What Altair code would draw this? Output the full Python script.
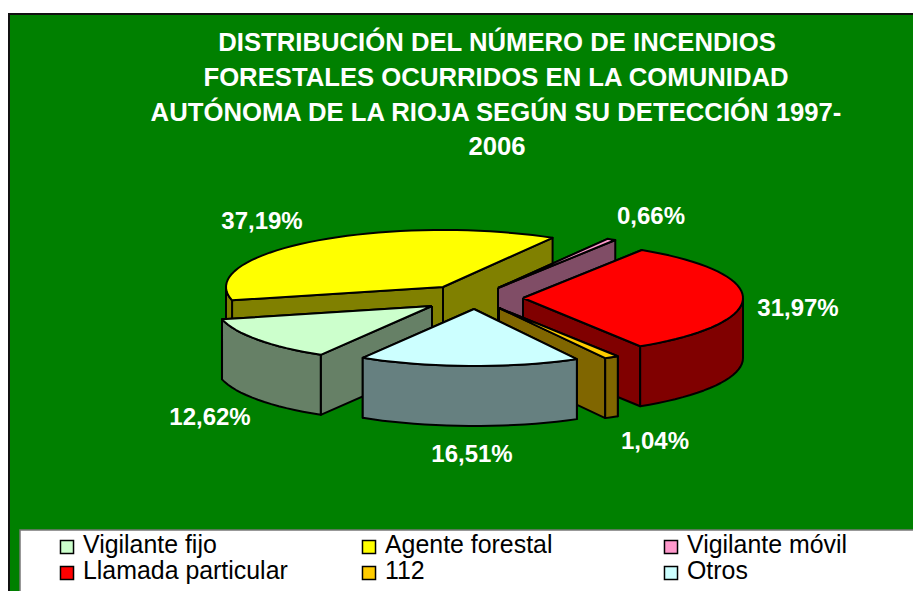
import math
import altair as alt
import pandas as pd

names = ["Vigilante fijo", "Agente forestal", "Vigilante móvil", "Llamada particular", "112", "Otros"]
values = [12.62, 37.19, 0.66, 31.97, 1.04, 16.51]
labels = ["12,62%", "37,19%", "0,66%", "31,97%", "1,04%", "16,51%"]
top_colors = ["#CCFFCC", "#FFFF00", "#FF99CC", "#FF0000", "#FFCC00", "#CCFFFF"]
side_colors = ["#668066", "#808000", "#804D66", "#800000", "#806600", "#668080"]
title_lines = ["DISTRIBUCIÓN DEL NÚMERO DE INCENDIOS",
               "FORESTALES OCURRIDOS EN LA COMUNIDAD",
               "AUTÓNOMA DE LA RIOJA SEGÚN SU DETECCIÓN 1997-",
               "2006"]

# layout (image pixels)
apex_x = [432, 443, 498, 523, 499, 474]
apex_y = [306, 287, 288, 298, 308, 309]
slice_rx = [216, 217, 217, 220, 223, 216]
label_x = [210, 262, 651, 798, 655, 472]
label_y = [418, 222, 217, 309, 442, 455]
title_x = [497, 496, 496, 497]
title_y = [43, 78, 113, 147]
legend_sq_x = [67, 369, 671, 67, 369, 671]
legend_sq_y = [547, 547, 547, 573, 573, 573]
legend_tx_x = [83, 385, 687, 83, 385, 687]
legend_tx_y = [546, 546, 546, 572, 572, 572]
RY, H = 57, 60
START = -149.0
paint_order = [1, 2, 3, 0, 4, 5]

X = alt.Scale(domain=[8, 913], nice=False, zero=False)
Y = alt.Scale(domain=[591, 8], nice=False, zero=False)


def rim(i, deg):
    t = math.radians(deg)
    return apex_x[i] + slice_rx[i] * math.sin(t), apex_y[i] - RY * math.cos(t)


def sweep(a, b):
    n = max(2, int((b - a) / 3) + 1)
    return [a + (b - a) * k / n for k in range(n + 1)]


total = sum(values)
ranges = []
cur = START
for v in values:
    ranges.append((cur, cur + 360 * v / total))
    cur += 360 * v / total

rows = []
pid = 0


def add(points, color):
    global pid
    pts = points + [points[0]]
    for k, (x, y) in enumerate(pts):
        rows.append({"x": x, "y": y, "i": k, "id": f"p{pid:03d}", "col": color})
    pid += 1


for i in paint_order:
    a, b = ranges[i]
    ax, ay = apex_x[i], apex_y[i]
    # rear radial wall first, nearer one over it
    for d in sorted((a, b), key=lambda q: rim(i, q)[1]):
        rx, ry = rim(i, d)
        add([(ax, ay), (rx, ry), (rx, ry + H), (ax, ay + H)], side_colors[i])
    for lo, hi in ((90, 270), (-270, -90)):
        fa, fb = max(a, lo), min(b, hi)
        if fb > fa:
            arc = [rim(i, d) for d in sweep(fa, fb)]
            add(arc + [(x, y + H) for x, y in reversed(arc)], side_colors[i])
    add([(ax, ay)] + [rim(i, d) for d in sweep(a, b)], top_colors[i])

poly_df = pd.DataFrame(rows)

ex = alt.X("x:Q", scale=X, axis=None)
ey = alt.Y("y:Q", scale=Y, axis=None)


def box(x0, x1, y0, y1, fill, stroke, sw):
    d = pd.DataFrame({"x": [x0], "x2": [x1], "y": [y0], "y2": [y1]})
    return alt.Chart(d).mark_rect(fill=fill, stroke=stroke, strokeWidth=sw).encode(
        x=ex, x2="x2:Q", y=ey, y2="y2:Q")


frame = box(9, 930, 14, 610, "#008000", "#111111", 2)
legend_box = box(20, 930, 530, 600, "#FFFFFF", "#777777", 1.5)

polys = alt.Chart(poly_df).mark_line(stroke="#000000", strokeWidth=2, strokeJoin="round").encode(
    x=ex, y=ey, order=alt.Order("i:Q"), detail="id:N", fill=alt.Fill("col:N", scale=None))

title_df = pd.DataFrame({"x": title_x, "y": title_y, "t": title_lines})
title = alt.Chart(title_df).mark_text(font="Liberation Sans", fontWeight="bold", fontSize=25.7,
                                      color="#FFFFFF", align="center", baseline="middle").encode(x=ex, y=ey, text="t:N")

lab_df = pd.DataFrame({"x": label_x, "y": label_y, "t": labels})
lab = alt.Chart(lab_df).mark_text(font="Liberation Sans", fontWeight="bold", fontSize=24,
                                  color="#FFFFFF", align="center", baseline="middle").encode(x=ex, y=ey, text="t:N")

sq_df = pd.DataFrame({"x": legend_sq_x, "y": legend_sq_y, "col": top_colors})
squares = alt.Chart(sq_df).mark_square(size=170, stroke="#000000", strokeWidth=1.5, opacity=1).encode(
    x=ex, y=ey, fill=alt.Fill("col:N", scale=None))

tx_df = pd.DataFrame({"x": legend_tx_x, "y": legend_tx_y, "t": names})
texts = alt.Chart(tx_df).mark_text(font="Liberation Sans", fontSize=24.9, color="#000000",
                                   align="left", baseline="middle").encode(x=ex, y=ey, text="t:N")

chart = alt.layer(frame, legend_box, polys, title, lab, squares, texts).properties(
    width=905, height=583, padding=0, autosize=alt.AutoSizeParams(type="none")
).configure_view(stroke=None)

chart.save("out.html", embed_options={"renderer": "svg", "actions": False})
